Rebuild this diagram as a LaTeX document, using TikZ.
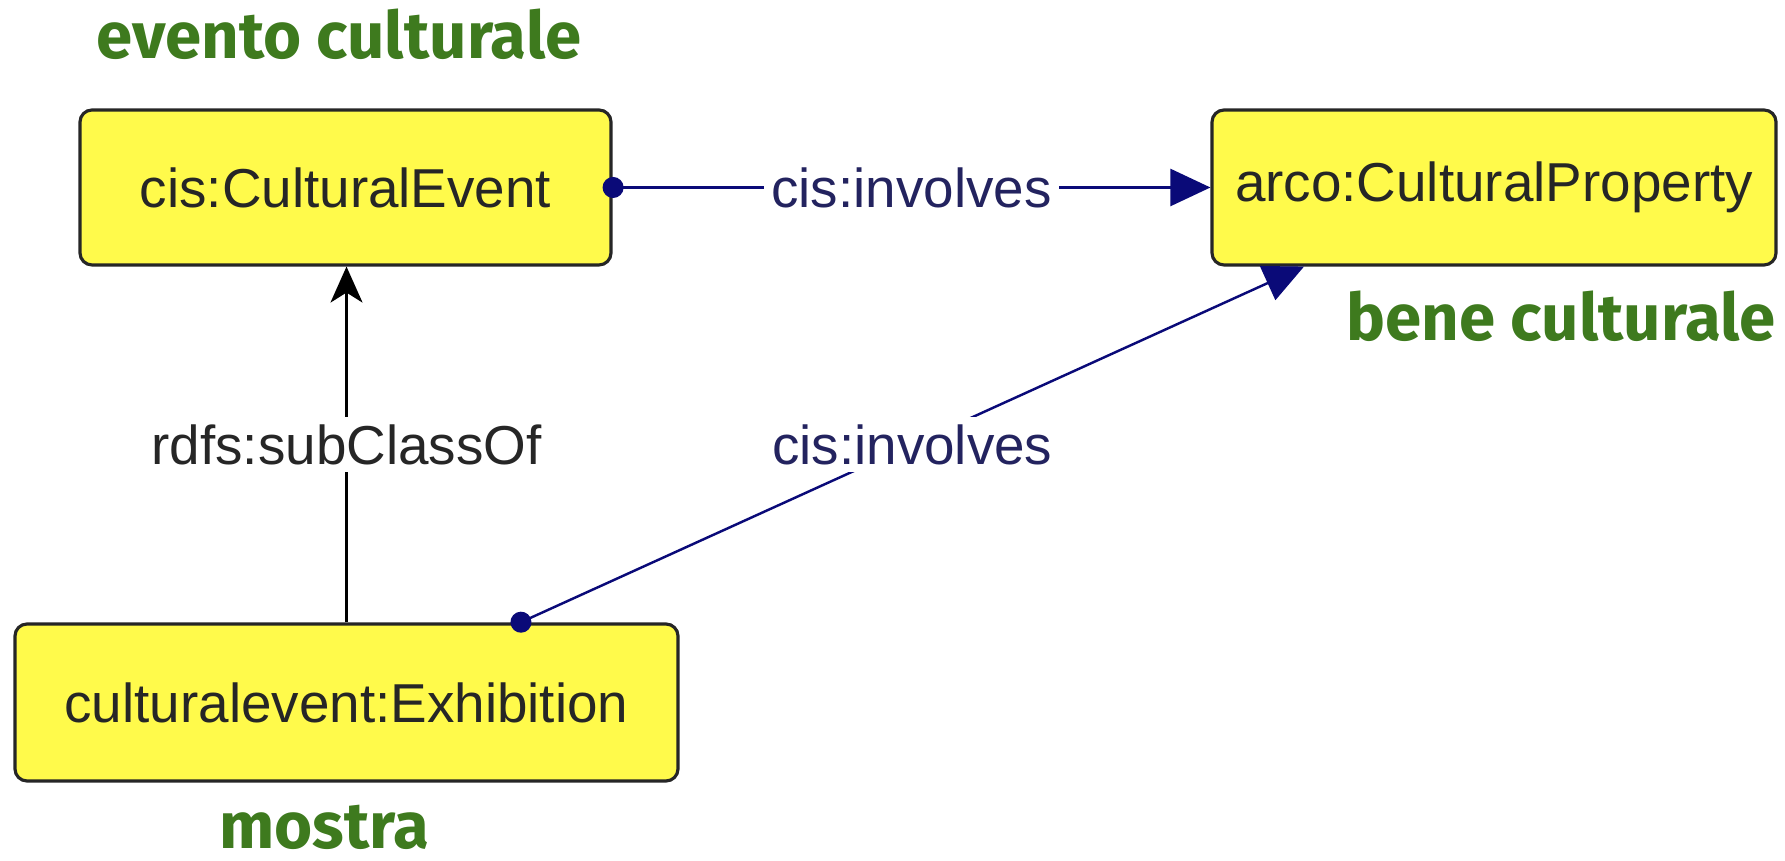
\documentclass[tikz,border=0pt]{standalone}
\usepackage{fontspec}
\setmainfont{Liberation Sans}
\newfontfamily\labelfont{Fira Sans}
\usetikzlibrary{arrows.meta,positioning}
\definecolor{boxyellow}{RGB}{255,250,75}
\definecolor{navyline}{RGB}{10,10,120}
\definecolor{navytext}{RGB}{35,35,95}
\definecolor{tagreen}{RGB}{62,122,30}
\begin{document}
\begin{tikzpicture}[
    owlclass/.style={rectangle, draw=black!85, line width=0.9pt, rounded corners=0.12cm, fill=boxyellow, minimum height=1.55cm, font=\fontsize{15.6}{18}\selectfont, text=black!85},
    tag/.style={font=\labelfont\bfseries\fontsize{18.6}{22}\selectfont, text=tagreen, inner sep=0pt},
    prop/.style={line width=0.7pt, draw=navyline, {Circle[length=0.21cm]}-{Triangle[length=0.4cm, width=0.37cm]}, shorten <=-0.1cm},
    proplabel/.style={fill=white, inner sep=2pt, text=navytext, font=\fontsize{15.6}{18}\selectfont}
]
    \useasboundingbox (0,0) rectangle (17.85,8.61);

    \node[owlclass, minimum width=5.31cm] (event) at (3.455,6.735) {cis:CulturalEvent};
    \node[owlclass, minimum width=5.64cm] (property) at (14.94,6.735) {arco:CulturalProperty};
    \node[owlclass, minimum width=6.63cm, minimum height=1.57cm] (exhibition) at (3.465,1.585) {culturalevent:Exhibition};

    \node[tag] (eventtag) at (3.39,8.27) {evento culturale};
    \node[tag, anchor=east] (propertytag) at (17.76,5.45) {bene culturale};
    \node[tag] (exhibitiontag) at (3.24,0.34) {mostra};

    \draw[prop] (event) -- node[proplabel] {cis:involves} (property);
    \draw[prop] ([xshift=1.74cm]exhibition.north) -- node[proplabel] {cis:involves} ([xshift=-1.9cm]property.south);
    \draw[line width=0.7pt, -{Stealth[length=0.36cm, width=0.32cm, inset=0.1cm]}] (exhibition.north) -- node[fill=white, inner sep=2pt, text=black!85, font=\fontsize{15.6}{18}\selectfont] {rdfs:subClassOf} (exhibition.north |- event.south);
\end{tikzpicture}
\end{document}
